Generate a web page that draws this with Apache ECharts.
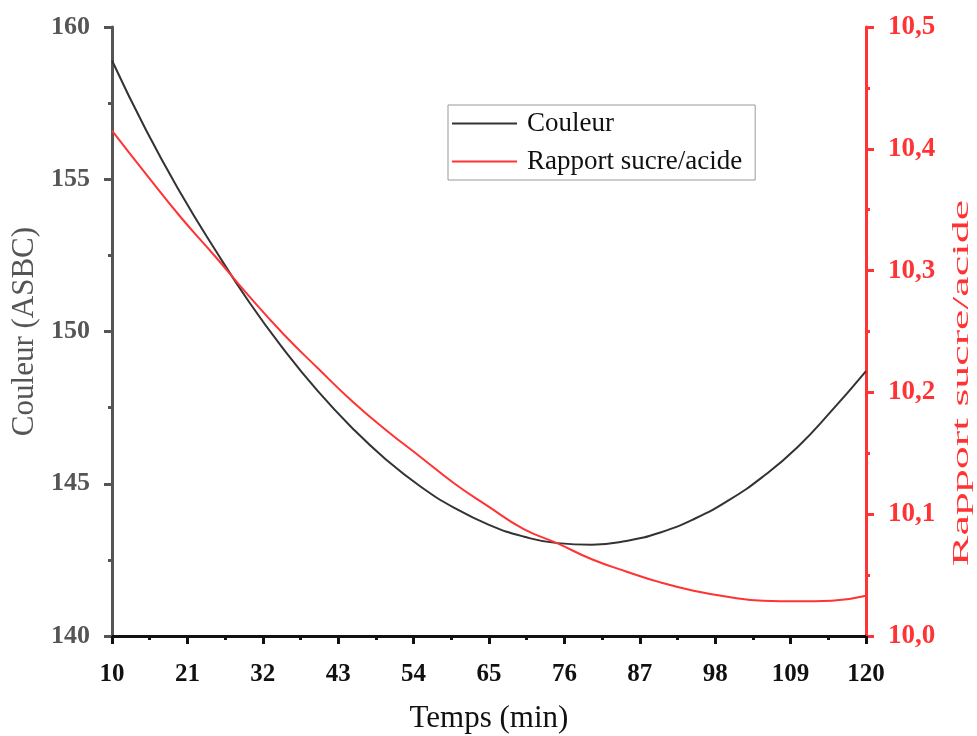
<!DOCTYPE html>
<html>
<head>
<meta charset="utf-8">
<script src="https://cdn.jsdelivr.net/npm/echarts@6/dist/echarts.min.js"></script>
<style>html,body{margin:0;padding:0;background:#fff}#c{width:977px;height:736px}</style>
</head>
<body>
<div id="c"></div>
<script>
const times = [10,15,20,25,30,35,40,45,50,55,60,65,70,75,80,85,90,95,100,105,110,115,120];
const couleur = [158.9,156.6,154.55,152.7,150.97,149.43,148.05,146.84,145.79,144.91,144.2,143.65,143.27,143.05,143.0,143.12,143.4,143.85,144.46,145.24,146.2,147.4,148.7];
const rapport = [10.415,10.379,10.344,10.312,10.279,10.248,10.220,10.193,10.169,10.147,10.125,10.106,10.088,10.076,10.063,10.053,10.044,10.037,10.032,10.029,10.0285,10.029,10.033];
const xTicks = {min:10, max:120, interval:11};
const yLeft = {min:140, max:160, interval:5};
const yRight = {min:10.0, max:10.5, interval:0.1};

const FONT = '"Liberation Serif", "DejaVu Serif", serif';
const GRAY = '#555555';
const RED = '#ff3333';

const chart = echarts.init(document.getElementById('c'));
chart.setOption({
  animation:false,
  backgroundColor:'#fff',
  grid:{left:112, right:111, top:27, bottom:100, containLabel:false, outerBoundsMode:'none'},
  legend:{
    orient:'vertical', left:448, top:105,
    icon:'rect', itemWidth:65, itemHeight:2, itemGap:11,
    padding:[5,13,5,4],
    borderColor:'#999', borderWidth:1,
    textStyle:{fontFamily:FONT, fontSize:27, color:'#111', padding:[0,0,0,5]},
    data:['Couleur','Rapport sucre/acide']
  },
  graphic:[{
    type:'text', x:962, y:383, rotation:Math.PI/2, scaleX:2.0,
    style:{text:'Rapport sucre/acide', font:'23px "Liberation Serif", serif', fill:RED, align:'center', verticalAlign:'middle'}
  }],
  xAxis:{
    type:'value', min:xTicks.min, max:xTicks.max, interval:xTicks.interval,
    name:'Temps (min)', nameLocation:'middle', nameGap:67,
    nameTextStyle:{fontFamily:FONT, fontSize:31, color:'#111'},
    axisLine:{show:true, onZero:false, lineStyle:{color:'#111', width:3}},
    axisTick:{show:true, inside:false, length:8, lineStyle:{color:'#111', width:3}},
    minorTick:{show:true, splitNumber:2, length:4, lineStyle:{color:'#111', width:3}},
    splitLine:{show:false},
    axisLabel:{fontFamily:FONT, fontSize:25, fontWeight:'bold', color:'#111', margin:26}
  },
  yAxis:[{
    type:'value', min:yLeft.min, max:yLeft.max, interval:yLeft.interval, position:'left',
    name:'Couleur (ASBC)', nameLocation:'middle', nameGap:72, nameRotate:90,
    nameTextStyle:{fontFamily:FONT, fontSize:31, color:GRAY},
    axisLine:{show:true, lineStyle:{color:GRAY, width:3}},
    axisTick:{show:true, length:8, lineStyle:{color:GRAY, width:3}},
    minorTick:{show:true, splitNumber:2, length:4, lineStyle:{color:GRAY, width:3}},
    splitLine:{show:false},
    axisLabel:{fontFamily:FONT, fontSize:26, fontWeight:'bold', color:GRAY, margin:22}
  },{
    type:'value', min:yRight.min, max:yRight.max, interval:yRight.interval, position:'right',
    axisLine:{show:true, lineStyle:{color:RED, width:3}},
    axisTick:{show:true, length:8, lineStyle:{color:RED, width:3}},
    minorTick:{show:true, splitNumber:2, length:4, lineStyle:{color:RED, width:3}},
    splitLine:{show:false},
    axisLabel:{fontFamily:FONT, fontSize:27, fontWeight:'bold', color:RED, margin:22,
      formatter:v=>v.toFixed(1).replace('.',',')}
  }],
  series:[{
    name:'Couleur', type:'line', yAxisIndex:0, smooth:true, symbol:'none',
    lineStyle:{color:'#333', width:2}, itemStyle:{color:'#333'},
    data:times.map((t,i)=>[t,couleur[i]])
  },{
    name:'Rapport sucre/acide', type:'line', yAxisIndex:1, smooth:true, symbol:'none',
    lineStyle:{color:RED, width:2}, itemStyle:{color:RED},
    data:times.map((t,i)=>[t,rapport[i]])
  }]
});
</script>
</body>
</html>
